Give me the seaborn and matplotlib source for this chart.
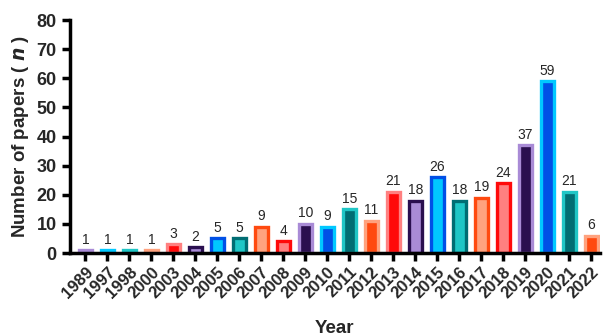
import pandas as pd
import numpy as np
import matplotlib
matplotlib.use("Agg")
import matplotlib.pyplot as plt
import seaborn as sns

years = ['1989', '1997', '1998', '2000', '2003', '2004', '2005', '2006', '2007', '2008',
         '2009', '2010', '2011', '2012', '2013', '2014', '2015', '2016', '2017', '2018',
         '2019', '2020', '2021', '2022']
papers = [1, 1, 1, 1, 3, 2, 5, 5, 9, 4, 10, 9, 15, 11, 21, 18, 26, 18, 19, 24, 37, 59, 21, 6]

# 10-step colour cycle: (edge, fill)
edge_cycle = ['#a98bd6', '#00c8ff', '#1fc6c6', '#ffa27e', '#ff8080',
              '#2a0f4f', '#0050e6', '#006d73', '#ff4a10', '#ff0a0a']
fill_cycle = ['#2a0f4f', '#0050e6', '#006d73', '#ff4a10', '#ff0a0a',
              '#a98bd6', '#00c8ff', '#1fc6c6', '#ffa27e', '#ff8080']

df = pd.DataFrame({'Year': years, 'Papers': papers})

sns.set_style('ticks')
plt.rcParams['font.family'] = ['Liberation Sans', 'DejaVu Sans']

fig, ax = plt.subplots(figsize=(6.06, 3.36), dpi=100)
sns.barplot(data=df, x='Year', y='Papers', ax=ax, width=0.58, color='white')

for i, bar in enumerate(ax.patches[:len(years)]):
    bar.set_facecolor(fill_cycle[i % 10])
    bar.set_edgecolor(edge_cycle[i % 10])
    bar.set_linewidth(2.4)
    ax.text(bar.get_x() + bar.get_width() / 2, bar.get_height() + 1.2,
            str(papers[i]), ha='center', va='bottom', fontsize=10)

ax.set_ylim(0, 80)
ax.set_yticks(range(0, 81, 10))
ax.set_xlim(-0.7, len(years) - 0.6)

for side in ['top', 'right']:
    ax.spines[side].set_visible(False)
for side in ['left', 'bottom']:
    ax.spines[side].set_linewidth(2.5)
    ax.spines[side].set_color('black')
ax.tick_params(axis='both', width=2.5, length=6, color='black')
plt.setp(ax.get_yticklabels(), fontsize=13, fontweight='bold')
plt.setp(ax.get_xticklabels(), fontsize=12, fontweight='bold', rotation=45,
         ha='right', rotation_mode='anchor')
ax.tick_params(axis='x', pad=2)

ax.set_ylabel('Number of papers ( $\\mathbfit{n}$ )', fontsize=13.5, fontweight='bold')
ax.set_xlabel('Year', fontsize=13.5, fontweight='bold', labelpad=14)

fig.subplots_adjust(left=0.1155, right=0.99, top=0.94, bottom=0.247)
fig.savefig('out.png', dpi=100)
